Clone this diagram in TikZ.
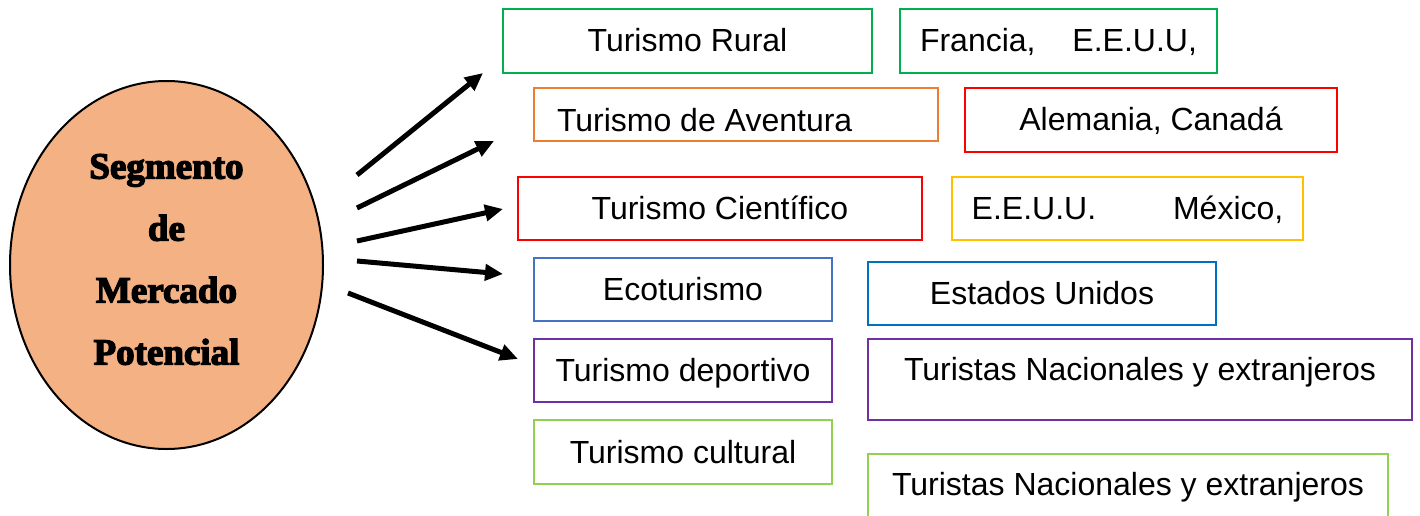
\documentclass[tikz,border=0pt]{standalone}
\usepackage{fontspec}
\setmainfont{Liberation Sans}
\newfontfamily\segfont{Liberation Serif}[BoldFeatures={FakeBold=3.5}]
\usepackage{tikz}
\usetikzlibrary{shapes.geometric, arrows.meta}
\definecolor{peach}{HTML}{F4B183}
\definecolor{dgreen}{HTML}{00B050}
\definecolor{lgreen}{HTML}{92D050}
\definecolor{orng}{HTML}{ED7D31}
\definecolor{gold}{HTML}{FFC000}
\definecolor{sblue}{HTML}{4472C4}
\definecolor{dblue}{HTML}{0070C0}
\definecolor{purp}{HTML}{7030A0}
\definecolor{rred}{HTML}{FF0000}

\begin{document}
\begin{tikzpicture}[x=1pt, y=1pt,
  tbox/.style={draw, line width=2pt, inner sep=0pt, text height=27pt, text depth=5pt,
    font=\fontsize{32}{38}\selectfont},
  seg/.style={-{Triangle[length=18pt, width=16pt]}, line width=5pt}]
  \useasboundingbox (0, 0) rectangle (1420, 515);
  \clip (0, 0) rectangle (1420, 515);

  \node[ellipse, draw, line width=2pt, fill=peach, minimum width=313pt, minimum height=368pt,
    inner sep=0pt] (mercado) at (166.5, 250) {};
  \node[align=center, inner sep=0pt, font=\segfont\bfseries\fontsize{37}{62}\selectfont]
    (mercadotxt) at ([yshift=5.5pt]mercado.center) {Segmento\\de\\Mercado\\Potencial};

  \node[tbox, draw=dgreen, minimum width=369pt, minimum height=64pt] (rural) at (687.5, 474) {Turismo Rural};
  \node[tbox, draw=dgreen, minimum width=317pt, minimum height=64pt] (francia) at (1058.5, 474) {Francia,\hspace{28pt} E.E.U.U,};

  \node[tbox, draw=orng, minimum width=404pt, minimum height=53pt, text height=39pt] (aventura) at (736, 400.5) {\makebox[358pt][l]{Turismo de Aventura}};
  \node[tbox, draw=rred, minimum width=372pt, minimum height=64pt] (alemania) at (1151, 395) {Alemania, Canadá};

  \node[tbox, draw=rred, minimum width=404pt, minimum height=63pt] (cientifico) at (720, 306.5) {Turismo Científico};
  \node[tbox, draw=gold, minimum width=351pt, minimum height=63pt] (mexico) at (1127.5, 306.5) {E.E.U.U.\hspace{68pt} México,};

  \node[tbox, draw=sblue, minimum width=298pt, minimum height=63pt] (eco) at (683, 225.5) {Ecoturismo};
  \node[tbox, draw=dblue, minimum width=348pt, minimum height=63pt] (estados) at (1042, 221.5) {Estados Unidos};

  \node[tbox, draw=purp, minimum width=298pt, minimum height=63pt] (deportivo) at (683, 144.5) {Turismo deportivo};
  \node[tbox, draw=purp, minimum width=544pt, minimum height=81pt, text depth=25pt] (turistas1) at (1140, 135.5) {Turistas Nacionales y extranjeros};

  \node[tbox, draw=lgreen, minimum width=298pt, minimum height=64pt] (cultural) at (683, 63) {Turismo cultural};
  \node[tbox, draw=lgreen, minimum width=520pt, minimum height=81pt, text depth=25pt, anchor=north] (turistas2) at (1128, 62) {Turistas Nacionales y extranjeros};

  \coordinate (s1) at (357, 340);
  \coordinate (e1) at (483, 442);
  \coordinate (s2) at (357, 307);
  \coordinate (e2) at (494, 374);
  \coordinate (s3) at (357, 274);
  \coordinate (e3) at (503, 306);
  \coordinate (s4) at (357, 254);
  \coordinate (e4) at (503, 241);
  \coordinate (s5) at (348, 222);
  \coordinate (e5) at (518, 156);

  \draw[seg] (s1) -- (e1);
  \draw[seg] (s2) -- (e2);
  \draw[seg] (s3) -- (e3);
  \draw[seg] (s4) -- (e4);
  \draw[seg] (s5) -- (e5);
\end{tikzpicture}
\end{document}
